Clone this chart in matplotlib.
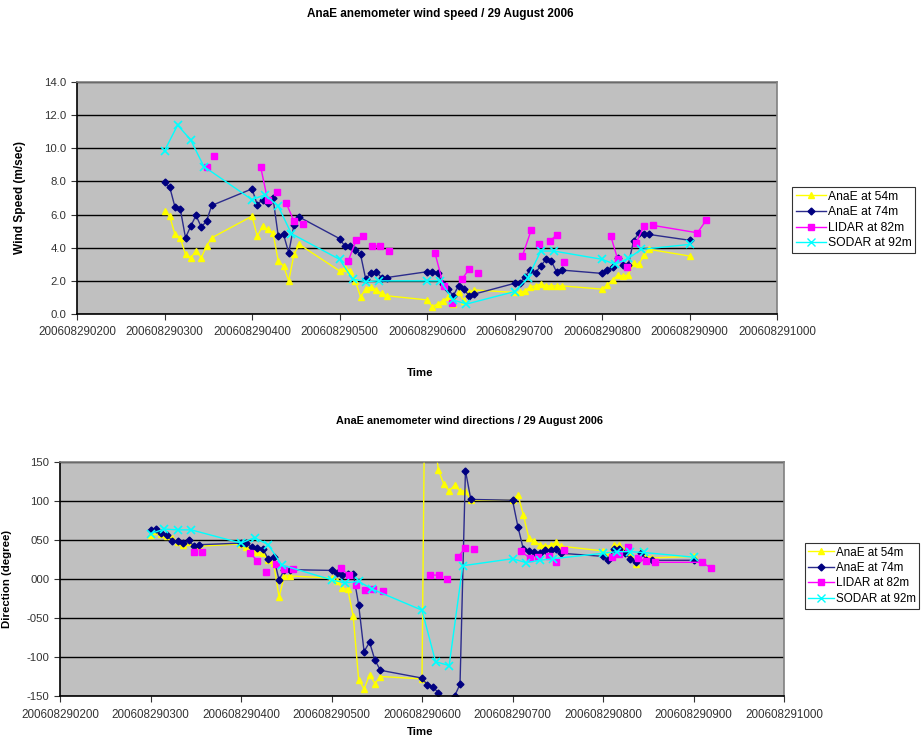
import numpy as np
import matplotlib
matplotlib.use("Agg")
import matplotlib.pyplot as plt
from matplotlib.lines import Line2D

plt.rcParams["font.family"] = ["Liberation Sans", "DejaVu Sans"]

# time axis: HHMM on 29 Aug 2006 (x = HHMM, so 0300 -> 300)
xtick_vals = [200, 300, 400, 500, 600, 700, 800, 900, 1000]
xtick_labels = ["200608290200", "200608290300", "200608290400", "200608290500",
                "200608290600", "200608290700", "200608290800", "200608290900",
                "200608291000"]

# anemometer timestamps
anem_t = [300, 306, 312, 318, 324, 330, 336, 342, 348, 354,
          400, 406, 412, 418, 424, 430, 436, 442, 448, 454,
          500, 506, 512, 518, 524, 530, 536, 542, 548, 554,
          600, 606, 612, 618, 624, 630, 636, 642, 648, 654,
          700, 706, 712, 718, 724, 730, 736, 742, 748, 754,
          800, 806, 812, 818, 824, 830, 836, 842, 848, 854,
          900]

speed54 = [6.2, 5.9, 4.8, 4.6, 3.6, 3.4, 3.8, 3.4, 4.1, 4.6,
           5.9, 4.7, 5.3, 5.1, 4.9, 3.2, 2.9, 2.0, 3.6, 4.2,
           2.6, 2.8, 2.6, 2.0, 1.05, 1.5, 1.65, 1.45, 1.25, 1.1,
           0.85, 0.45, 0.6, 0.8, 1.0, 0.6, 1.35, 0.8, 1.3, 1.45,
           1.3, 1.3, 1.4, 1.65, 1.7, 1.8, 1.7, 1.7, 1.7, 1.7,
           1.5, 1.75, 2.05, 2.35, 2.3, 2.35, 3.05, 3.0, 3.55, 3.9,
           3.5]
speed74 = [7.95, 7.65, 6.45, 6.35, 4.6, 5.3, 5.95, 5.25, 5.6, 6.55,
           7.55, 6.6, 6.9, 6.7, 7.0, 4.7, 4.8, 3.7, 5.4, 5.85,
           4.55, 4.1, 4.1, 3.85, 3.6, 2.1, 2.5, 2.55, 2.2, 2.2,
           2.55, 2.55, 2.5, 1.8, 1.5, 1.1, 1.7, 1.5, 1.1, 1.2,
           1.85, 1.85, 2.25, 2.65, 2.5, 2.9, 3.3, 3.2, 2.55, 2.65,
           2.45, 2.65, 2.85, 3.35, 2.95, 2.95, 4.4, 4.9, 4.8, 4.8,
           4.45]
dir54 = [57, 62, 58, 55, 53, 48, 43, 47, 40, 42,
         45, 41, 38, 35, 33, 24, 21, -23, 4, 4,
         1, -3, -12, -13, -48, -129, -141, -123, -134, -125,
         -128, 600, 200, 140, 122, 113, 120, 113, 113, 101,
         101, 108, 82, 53, 49, 44, 42, 43, 47, 42,
         36, 30, 44, 43, 38, 32, 19, 36, 30, 27,
         29]
dir74 = [63, 64, 59, 56, 49, 49, 46, 50, 42, 44,
         46, 46, 41, 40, 39, 26, 28, -1, 12, 12,
         11, 8, 5, 6, 7, -33, -93, -81, -104, -117,
         -127, -136, -138, -146, -162, -165, -150, -135, 139, 102,
         101, 67, 38, 36, 34, 33, 37, 37, 39, 33,
         29, 25, 38, 38, 33, 26, 22, 33, 25, 24,
         24]

# SODAR every 15 min
sodar_t = [300, 315, 330, 345, 400, 415, 430, 445, 500, 515, 530, 545,
           600, 615, 630, 645, 700, 715, 730, 745, 800, 815, 830, 845, 900]
sodar_speed = [9.85, 11.4, 10.5, 8.9, 6.9, 7.2, 6.5, 4.85, 3.3, 2.1, 1.95, 2.0,
               2.0, 2.0, 0.85, 0.6, 1.35, 2.15, 3.8, 3.8, 3.3, 3.0, 3.35, 3.9, 4.2]
sodar_dir = [58, 64, 63, 63, 46, 53, 44, 18, -1, -5, -3, -13,
             -40, -106, -111, 17, 26, 21, 24, 26, 33, 35, 35, 34, 28]

# LIDAR (nan = gap in the line)
nan = np.nan
lidar_t = [348, nan, 357, nan, 410, 418, nan, 428, nan, 439, 448, nan, 458, nan,
           510, 519, nan, 527, nan, 537, 546, nan, 557, nan,
           609, 619, nan, 628, nan, 640, 648, nan, 658, nan,
           709, 719, nan, 728, nan, 740, 748, nan, 757, nan,
           810, 818, nan, 828, nan, 839, 848, nan, 858, 909, 919]
lidar_speed = [8.9, nan, 9.55, nan, 8.85, 6.85, nan, 7.35, nan, 6.7, 5.6, nan, 5.45, nan,
               3.2, 4.45, nan, 4.7, nan, 4.1, 4.1, nan, 3.8, nan,
               3.7, 1.7, nan, 0.65, nan, 2.1, 2.7, nan, 2.5, nan,
               3.5, 5.05, nan, 4.25, nan, 4.4, 4.75, nan, 3.15, nan,
               4.7, 3.3, nan, 2.85, nan, 4.3, 5.3, nan, 5.35, 4.9, 5.65]
lidar_dir = [35, nan, 34, nan, 33, 23.5, nan, 8.6, nan, 19, 12.4, nan, 12.4, nan,
             13.7, 5, nan, -7.7, nan, -14, -12.8, nan, -16, nan,
             5, 5, nan, -0.4, nan, 28.6, 40, nan, 38, nan,
             36, 27, nan, 28.6, nan, 29.5, 21.4, nan, 37, nan,
             28, 32, nan, 41.4, nan, 26.5, 23, nan, 21.4, 21.4, 14.5]

speed_ticks = [0, 2, 4, 6, 8, 10, 12, 14]
dir_ticks = [-150, -100, -50, 0, 50, 100, 150]
dir_tick_labels = ["-150", "-100", "-050", "000", "050", "100", "150"]

series_names = ["AnaE at 54m", "AnaE at 74m", "LIDAR at 82m", "SODAR at 92m"]
YEL, NAVY, NAVY_LINE, PINK, CYAN = "#FFFF00", "#000080", "#2B2B8C", "#FF00FF", "#00FFFF"

fig = plt.figure(figsize=(9.23, 7.42), dpi=100)


def style_axes(ax):
    ax.set_facecolor("#C0C0C0")
    ax.set_xlim(200, 1000)
    ax.set_xticks(xtick_vals)
    ax.set_xticklabels(xtick_labels)
    ax.tick_params(axis="x", direction="out", length=4, width=0.8,
                   colors="#333333", labelsize=8.4, pad=5)
    ax.tick_params(axis="y", direction="out", length=4, width=0.8,
                   colors="#333333", labelsize=8.2)
    ax.yaxis.grid(True, color="black", linewidth=1)
    ax.set_axisbelow(True)
    for side in ["top", "right"]:
        ax.spines[side].set_color("#808080")
        ax.spines[side].set_linewidth(1.2)
    for side in ["left", "bottom"]:
        ax.spines[side].set_color("black")
        ax.spines[side].set_linewidth(1.2)


def draw_series(ax, v54, v74, lidar, sodar):
    ax.plot(anem_t, v54, color=YEL, lw=1, marker="^", ms=5, mec=YEL, mfc=YEL)
    ax.plot(anem_t, v74, color=NAVY_LINE, lw=1, marker="D", ms=3.5, mec=NAVY, mfc=NAVY)
    ax.plot(lidar_t, lidar, color=PINK, lw=1, marker="s", ms=5, mec=PINK, mfc=PINK)
    ax.plot(sodar_t, sodar, color=CYAN, lw=1, marker="x", ms=6, mew=1.2)


def legend_handles():
    return [
        Line2D([], [], color=YEL, lw=1, marker="^", ms=5),
        Line2D([], [], color=NAVY_LINE, lw=1, marker="D", ms=3.5, mfc=NAVY, mec=NAVY),
        Line2D([], [], color=PINK, lw=1, marker="s", ms=5),
        Line2D([], [], color=CYAN, lw=1, marker="x", ms=6),
    ]


def add_legend(x1, y0, size, hlen):
    # anchored by its top-right corner (pixels)
    leg = fig.legend(legend_handles(), series_names, loc="upper right",
                     bbox_to_anchor=(x1 / W, 1 - y0 / H), fontsize=size,
                     frameon=True, fancybox=False, edgecolor="black",
                     handlelength=hlen, handletextpad=0.15, labelspacing=0.3,
                     borderpad=0.3, borderaxespad=0)
    leg.get_frame().set_linewidth(0.8)


W, H = 923, 742

# ---- wind speed
ax1 = fig.add_axes([77 / W, 1 - 314 / H, 700 / W, 232 / H])
style_axes(ax1)
draw_series(ax1, speed54, speed74, lidar_speed, sodar_speed)
ax1.set_ylim(0, 14)
ax1.set_yticks(speed_ticks)
ax1.set_yticklabels([f"{v:.1f}" for v in speed_ticks])
fig.text(440 / W, 1 - 14 / H, "AnaE anemometer wind speed / 29 August 2006",
         ha="center", va="center", fontsize=8.5, fontweight="bold")
fig.text(20 / W, 1 - 198 / H, "Wind Speed (m/sec)", rotation=90,
         ha="center", va="center", fontsize=8.6, fontweight="bold")
fig.text(420 / W, 1 - 373 / H, "Time", ha="center", va="center",
         fontsize=8.2, fontweight="bold")
add_legend(915, 187, 8.7, 2.5)

# ---- wind direction
ax2 = fig.add_axes([60 / W, 1 - 696 / H, 724 / W, 234 / H])
style_axes(ax2)
draw_series(ax2, dir54, dir74, lidar_dir, sodar_dir)
ax2.set_ylim(-150, 150)
ax2.set_yticks(dir_ticks)
ax2.set_yticklabels(dir_tick_labels)
fig.text(470 / W, 1 - 421 / H, "AnaE anemometer wind directions / 29 August 2006",
         ha="center", va="center", fontsize=7.8, fontweight="bold")
fig.text(7 / W, 1 - 579 / H, "Direction (degree)", rotation=90,
         ha="center", va="center", fontsize=8.2, fontweight="bold")
fig.text(420 / W, 1 - 732 / H, "Time", ha="center", va="center",
         fontsize=8.2, fontweight="bold")
add_legend(919, 543, 8.4, 2.2)

fig.savefig("out.png", dpi=100)
plt.close(fig)
